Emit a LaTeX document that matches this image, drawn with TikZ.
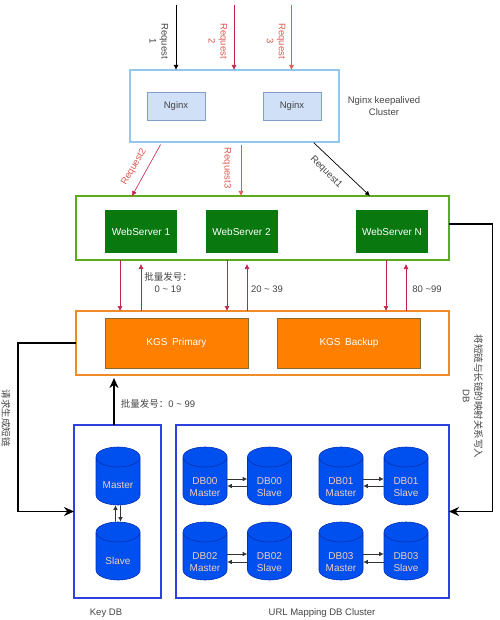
\documentclass[tikz,border=0pt]{standalone}
\usepackage{fontspec}
\setmainfont{Liberation Sans}
\newfontfamily\cjk{Noto Sans CJK SC}
\usetikzlibrary{arrows.meta, shapes.geometric}
\definecolor{nginxline}{HTML}{93C8EE}
\definecolor{webline}{HTML}{5CAB1E}
\definecolor{kgsline}{HTML}{F08C28}
\definecolor{dbline}{HTML}{2F40E0}
\definecolor{dbfill}{HTML}{0050EF}
\definecolor{dbedge}{HTML}{0A2FB0}
\definecolor{dbtext}{HTML}{F2CDBE}
\definecolor{wirered}{HTML}{C2224A}
\definecolor{labelred}{HTML}{DC5A50}
\definecolor{labelgrey}{HTML}{444444}
\definecolor{nginxfill}{HTML}{D0E0F6}
\definecolor{nginxedge}{HTML}{7FA0C8}
\definecolor{webfill}{HTML}{08780F}
\definecolor{kgsfill}{HTML}{FF8000}
\definecolor{kgsedge}{HTML}{8A6A30}
\tikzset{
	cluster/.style={shape=rectangle, draw, line width=1.3pt, outer sep=0pt, inner sep=0pt},
	nginxbox/.style={shape=rectangle, draw=nginxedge, fill=nginxfill, line width=0.6pt, minimum width=58pt, minimum height=28pt, font=\fontsize{9.5}{11}\selectfont, text=labelgrey},
	webbox/.style={shape=rectangle, fill=webfill, minimum width=72pt, minimum height=43pt, font=\fontsize{10}{12}\selectfont, text=white},
	kgsbox/.style={shape=rectangle, draw=kgsedge, fill=kgsfill, line width=0.6pt, minimum width=143pt, minimum height=50pt, font=\fontsize{10}{12}\selectfont, text=white},
	dbcyl/.style={shape=cylinder, shape border rotate=90, aspect=0.5, anchor=shape center, draw=dbedge, fill=dbfill, line width=0.6pt, minimum width=44pt, minimum height=58pt, inner sep=0pt, text width=40pt, text height=6pt, text depth=0pt, label={[dbword]center:{#1}}},
	dbword/.style={align=center, inner sep=0pt, yshift=-6pt, font=\fontsize{10}{12}\selectfont, text=dbtext},
	caption/.style={align=center, font=\fontsize{9.5}{12}\selectfont, text=labelgrey, inner sep=0pt},
	redwire/.style={draw=wirered, line width=0.6pt, -{Latex[length=5pt, width=5pt]}},
	blackwire/.style={draw=black, line width=0.7pt, -{Latex[length=5pt, width=5pt]}},
	thickwire/.style={draw=black, line width=1.7pt, -{Stealth[length=10pt, width=9pt]}},
	syncwire/.style={draw=black!80, line width=0.6pt, -{Latex[length=4.5pt, width=4.5pt]}},
}
\begin{document}
\begin{tikzpicture}[x=1pt, y=-1pt]
	\useasboundingbox (0,0) rectangle (499,620);
	% Clusters and boxes:
	\node[cluster, draw=nginxline, minimum width=209pt, minimum height=72pt] (nginxCluster) at (234.5,106){};
	\node[nginxbox] (nginx1) at (176,106){Nginx};
	\node[nginxbox] (nginx2) at (292,106){Nginx};
	\node[cluster, draw=webline, minimum width=373pt, minimum height=64pt] (webCluster) at (262.5,228){};
	\node[webbox] (web1) at (141,231.5){WebServer 1};
	\node[webbox] (web2) at (241.5,231.5){WebServer 2};
	\node[webbox] (webN) at (392,231.5){WebServer N};
	\node[cluster, draw=kgsline, minimum width=373pt, minimum height=64pt] (kgsCluster) at (262.5,343){};
	\node[kgsbox] (kgsPrimary) at (176.5,343){KGS\, Primary};
	\node[kgsbox] (kgsBackup) at (349,343){KGS\, Backup};
	\node[cluster, draw=dbline, minimum width=87pt, minimum height=173pt] (keyCluster) at (117.5,511.5){};
	\node[cluster, draw=dbline, minimum width=273pt, minimum height=173pt] (urlCluster) at (312.5,511.5){};
	% Databases:
	\node[dbcyl={\raisebox{3.5pt}{Master}}] (keyMaster) at (118,476){};
	\node[dbcyl={\raisebox{3.5pt}{Slave}}] (keySlave) at (118,551){};
	\node[dbcyl={DB00\\Master}] (db00m) at (205,476){};
	\node[dbcyl={DB00\\Slave}] (db00s) at (269.5,476){};
	\node[dbcyl={DB01\\Master}] (db01m) at (341,476){};
	\node[dbcyl={DB01\\Slave}] (db01s) at (406,476){};
	\node[dbcyl={DB02\\Master}] (db02m) at (205,551){};
	\node[dbcyl={DB02\\Slave}] (db02s) at (269.5,551){};
	\node[dbcyl={DB03\\Master}] (db03m) at (341,551){};
	\node[dbcyl={DB03\\Slave}] (db03s) at (406,551){};
	% Requests:
	\coordinate (req1) at (176,5);
	\coordinate (req2) at (234,5);
	\coordinate (req3) at (291.5,5);
	\draw[blackwire, line width=0.9pt] (req1) -- (176,0 |- nginxCluster.north);
	\draw[redwire] (req2) -- (234,0 |- nginxCluster.north);
	\draw[redwire, draw=labelred] (req3) -- (291.5,0 |- nginxCluster.north);
	\draw[redwire, shorten <=3pt] (162,0 |- nginxCluster.south) -- (132,0 |- webCluster.north);
	\draw[redwire, draw=labelred, shorten <=3pt] (241,0 |- nginxCluster.south) -- (241,0 |- webCluster.north);
	\draw[blackwire, shorten <=1pt] (313,0 |- nginxCluster.south) -- (370,0 |- webCluster.north);
	\node[caption, rotate=-90, text=labelgrey] (req1Label) at (159,41){Request\\1};
	\node[caption, rotate=-90, text=labelred] (req2Label) at (218,41){Request\\2};
	\node[caption, rotate=-90, text=labelred] (req3Label) at (276,41){Request\\3};
	\node[caption, rotate=60, text=labelred] (out2Label) at (134,167){Request2};
	\node[caption, rotate=-90, text=labelred] (out3Label) at (227,168){Request3};
	\node[caption, rotate=-45, text=labelgrey] (out1Label) at (326,172){Request1};
	\node[caption] (nginxLabel) at (384,106){Nginx keepalived\\Cluster};
	% Web servers and KGS:
	\draw[redwire] (120,0 |- webCluster.south) -- (120,0 |- kgsCluster.north);
	\draw[redwire, shorten >=4pt] (141,0 |- kgsCluster.north) -- (141,0 |- webCluster.south);
	\draw[redwire] (227,0 |- webCluster.south) -- (227,0 |- kgsCluster.north);
	\draw[redwire, shorten >=4pt] (247,0 |- kgsCluster.north) -- (247,0 |- webCluster.south);
	\draw[redwire] (386,0 |- webCluster.south) -- (386,0 |- kgsCluster.north);
	\draw[redwire, shorten >=4pt] (406,0 |- kgsCluster.north) -- (406,0 |- webCluster.south);
	\node[caption] (range1) at (168,282.5){{\cjk 批量发号：}\\0 \textasciitilde{} 19};
	\node[caption] (range2) at (267,289){20 \textasciitilde{} 39};
	\node[caption] (range3) at (427,289){80 \textasciitilde{}99};
	% Thick wires:
	\coordinate (turnRight) at (492.5,511.5);
	\coordinate (turnLeft) at (18,511.5);
	\draw[thickwire] ([yshift=4pt]webCluster.east) -| (turnRight) -- (urlCluster.east);
	\draw[thickwire] (kgsCluster.west) -| (turnLeft) -- (keyCluster.west);
	\draw[thickwire, shorten >=3pt] (114,0 |- keyCluster.north) -- (114,0 |- kgsCluster.south);
	\node[caption] (rangeAll) at (158,404){{\cjk 批量发号：}0 \textasciitilde{} 99};
	\node[caption, rotate=-90] (createLabel) at (6,418){\cjk 请求生成短链};
	\node[caption, rotate=-90] (writeLabel) at (473,396.5){{\cjk 将短链与长链的映射关系写入}\\DB};
	% Master and slave wires:
	\draw[syncwire] ([xshift=-2.5pt]keySlave.north) -- ([xshift=-2.5pt]keyMaster.south);
	\draw[syncwire] ([xshift=2.5pt]keyMaster.south) -- ([xshift=2.5pt]keySlave.north);
	\draw[syncwire] (db00m.east |- 0,479) -- (db00s.west |- 0,479);
	\draw[syncwire] (db00s.west |- 0,486) -- (db00m.east |- 0,486);
	\draw[syncwire] (db01m.east |- 0,479) -- (db01s.west |- 0,479);
	\draw[syncwire] (db01s.west |- 0,486) -- (db01m.east |- 0,486);
	\draw[syncwire] (db02m.east |- 0,554) -- (db02s.west |- 0,554);
	\draw[syncwire] (db02s.west |- 0,562) -- (db02m.east |- 0,562);
	\draw[syncwire] (db03m.east |- 0,554) -- (db03s.west |- 0,554);
	\draw[syncwire] (db03s.west |- 0,562) -- (db03m.east |- 0,562);
	\node[caption] (keyLabel) at (106,613){Key DB};
	\node[caption] (urlLabel) at (322,613){URL Mapping DB Cluster};
\end{tikzpicture}
\end{document}
